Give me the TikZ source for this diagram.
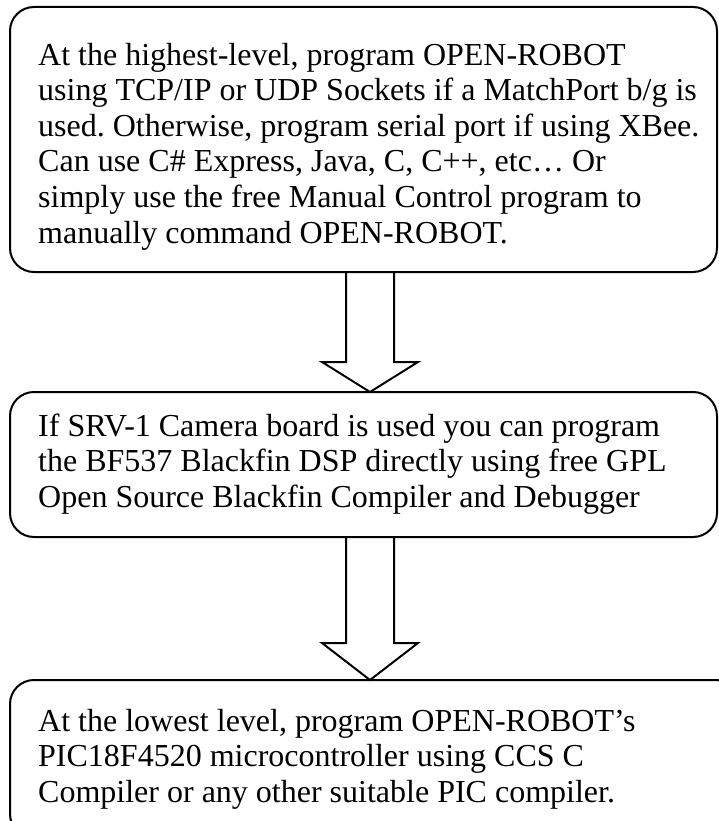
\documentclass[tikz,border=0pt]{standalone}
\usepackage{fontspec}
\setmainfont{Liberation Serif}
\usetikzlibrary{calc}
\frenchspacing

\tikzset{
  levelbox/.style={draw, line width=2pt, rounded corners=24pt, outer sep=0pt, inner sep=0pt,
    minimum width=707pt, anchor=north west},
  leveltext/.style={anchor=north west, align=left, inner sep=0pt,
    font=\fontsize{32pt}{35.6pt}\selectfont},
  blockarrow/.style={draw, line width=2pt, line join=miter}
}

\begin{document}
\begin{tikzpicture}[x=1pt,y=-1pt]
  \useasboundingbox (0,0) rectangle (719,821);

  % the three levels (the last one runs off the page)
  \node[levelbox, minimum height=265pt] (box1) at (10,7) {};
  \node[levelbox, minimum height=145pt] (box2) at (10,392) {};
  \node[levelbox, minimum height=158pt, minimum width=730pt] (box3) at (10,680) {};

  \node[leveltext] (txt1) at ([shift={(28pt,-35.6pt)}]box1.north west)
    {At the highest-level, program OPEN-ROBOT\\
     using TCP/IP or UDP Sockets if a MatchPort b/g is\\
     used. Otherwise, program serial port if using XBee.\\
     Can use C\# Express, Java, C, C++, etc… Or\\
     simply use the free Manual Control program to\\
     manually command OPEN-ROBOT.};
  \node[leveltext] (txt2) at ([shift={(28pt,-21.6pt)}]box2.north west)
    {If SRV-1 Camera board is used you can program\\
     the BF537 Blackfin DSP directly using free GPL\\
     Open Source Blackfin Compiler and Debugger};
  \node[leveltext] (txt3) at ([shift={(28pt,-28.6pt)}]box3.north west)
    {At the lowest level, program OPEN-ROBOT’s\\
     PIC18F4520 microcontroller using CCS C\\
     Compiler or any other suitable PIC compiler.};

  % block arrows between levels
  \draw[blockarrow] ([xshift=336pt]box1.south west) -- ++(0,90) -- ++(-24,0)
    -- ([xshift=360pt]box2.north west) -- ++(48,-30) -- ++(-24,0)
    -- ([xshift=384pt]box1.south west);
  \draw[blockarrow] ([xshift=336pt]box2.south west) -- ++(0,106) -- ++(-24,0)
    -- ([xshift=360pt]box3.north west) -- ++(48,-37) -- ++(-24,0)
    -- ([xshift=384pt]box2.south west);
\end{tikzpicture}
\end{document}
